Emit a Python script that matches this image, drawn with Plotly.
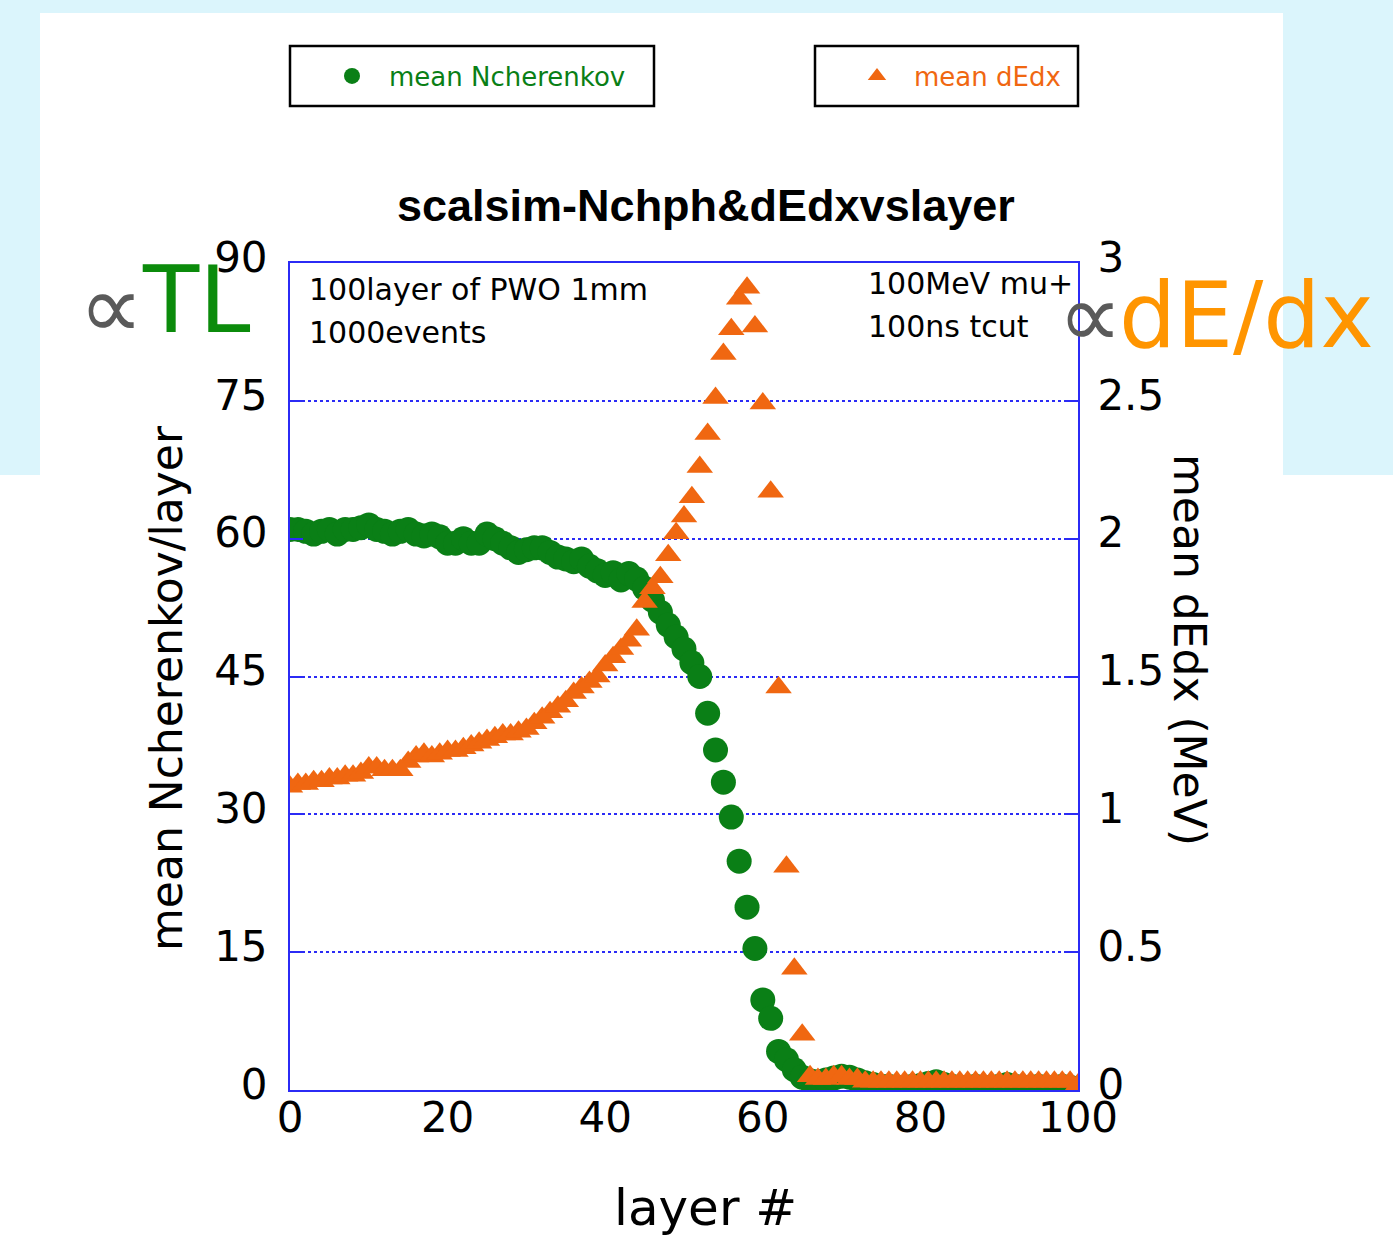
import plotly.graph_objects as go

# ---------------- data ----------------
layers = list(range(101))

ncherenkov = [
    61.0, 61.0, 60.8, 60.5, 60.8, 61.0, 60.5, 61.0, 61.0, 61.2,
    61.5, 61.0, 60.8, 60.5, 60.8, 61.0, 60.5, 60.3, 60.5, 60.2,
    59.5, 59.5, 60.0, 59.5, 59.5, 60.5, 60.0, 59.5, 59.0, 58.5,
    58.8, 59.0, 59.0, 58.5, 58.0, 57.8, 57.5, 57.8, 57.0, 56.5,
    56.0, 56.3, 55.5, 56.2, 55.6, 54.6, 53.3, 52.0, 50.6, 49.3,
    48.0, 46.5, 45.0, 41.0, 37.0, 33.5, 29.7, 24.9, 19.9, 15.4,
    9.8, 7.8, 4.2, 3.3, 2.2, 1.4, 1.0, 0.9, 1.1, 1.3,
    1.5, 1.4, 1.1, 0.8, 0.6, 0.4, 0.4, 0.3, 0.3, 0.4,
    0.5, 0.7, 0.9, 0.6, 0.4, 0.3, 0.3, 0.4, 0.3, 0.3,
    0.4, 0.6, 0.4, 0.3, 0.3, 0.4, 0.3, 0.3, 0.4, 0.3,
    0.2,
]

dedx = [
    1.10, 1.11, 1.11, 1.12, 1.12, 1.13, 1.13, 1.14, 1.14, 1.15,
    1.17, 1.17, 1.16, 1.16, 1.16, 1.19, 1.21, 1.22, 1.21, 1.22,
    1.23, 1.23, 1.24, 1.25, 1.26, 1.27, 1.28, 1.29, 1.29, 1.30,
    1.31, 1.33, 1.35, 1.37, 1.39, 1.41, 1.44, 1.46, 1.48, 1.50,
    1.54, 1.57, 1.60, 1.63, 1.67, 1.77, 1.82, 1.86, 1.94, 2.02,
    2.08, 2.15, 2.26, 2.38, 2.51, 2.67, 2.76, 2.87, 2.91, 2.77,
    2.49, 2.17, 1.46, 0.81, 0.44, 0.20, 0.05, 0.04, 0.04, 0.05,
    0.05, 0.04, 0.04, 0.03, 0.03, 0.03, 0.03, 0.03, 0.03, 0.03,
    0.03, 0.03, 0.03, 0.03, 0.03, 0.03, 0.03, 0.03, 0.03, 0.03,
    0.03, 0.03, 0.03, 0.03, 0.03, 0.03, 0.03, 0.03, 0.03, 0.03,
    0.02,
]

x_ticks = [0, 20, 40, 60, 80, 100]
y_ticks = [0, 15, 30, 45, 60, 75, 90]
y2_ticks = [0, 0.5, 1, 1.5, 2, 2.5, 3]
y2_ticktext = ["0", "0.5", "1", "1.5", "2", "2.5", "3"]

# ---------------- styling ----------------
GREEN = "#0a7f16"
ORANGE = "#f06711"
BLUE = "#2b2bf5"
FONT = "DejaVu Sans"

W, H = 1393, 1236
L, R, T, B = 290, 1078, 263, 1090


def px(x):
    return (x - L) / (R - L)


def py(y):
    return (B - y) / (B - T)


fig = go.Figure()
fig.add_trace(go.Scatter(
    x=layers, y=ncherenkov, mode="markers", name="mean Ncherenkov",
    marker=dict(symbol="circle", size=25, color=GREEN),
    legend="legend", yaxis="y",
))
fig.add_trace(go.Scatter(
    x=layers, y=dedx, mode="markers", name="mean dEdx",
    marker=dict(symbol="triangle-up", size=23, color=ORANGE),
    legend="legend2", yaxis="y2",
))

shapes = [
    dict(type="rect", xref="paper", yref="paper", layer="below",
         x0=px(0), x1=px(W), y0=py(0), y1=py(475),
         fillcolor="#dbf5fc", line=dict(width=0)),
    dict(type="rect", xref="paper", yref="paper", layer="below",
         x0=px(40), x1=px(1283), y0=py(13), y1=py(H + 5),
         fillcolor="white", line=dict(width=0)),
    dict(type="rect", xref="paper", yref="paper",
         x0=px(290), x1=px(654), y0=py(46), y1=py(106),
         fillcolor="rgba(0,0,0,0)", line=dict(color="black", width=2.5)),
    dict(type="rect", xref="paper", yref="paper",
         x0=px(815), x1=px(1078), y0=py(46), y1=py(106),
         fillcolor="rgba(0,0,0,0)", line=dict(color="black", width=2.5)),
]

annotations = [
    dict(text="scalsim-Nchph&amp;dEdxvslayer", x=px(706), y=py(205),
         font=dict(family="Liberation Sans", size=45, color="black", weight="bold")),
    dict(text="mean Ncherenkov/layer", x=px(166), y=py(688), textangle=-90,
         font=dict(family=FONT, size=44, color="black")),
    dict(text="mean dEdx (MeV)", x=px(1190), y=py(650), textangle=90,
         font=dict(family=FONT, size=44, color="black")),
    dict(text="layer #", x=px(705), y=py(1208),
         font=dict(family=FONT, size=50, color="black")),
    dict(text="100layer of PWO 1mm", x=px(307), y=py(289), xanchor="left",
         font=dict(family=FONT, size=30, color="black")),
    dict(text="1000events", x=px(307), y=py(332), xanchor="left",
         font=dict(family=FONT, size=30, color="black")),
    dict(text="100MeV mu+", x=px(866), y=py(283), xanchor="left",
         font=dict(family=FONT, size=30, color="black")),
    dict(text="100ns tcut", x=px(866), y=py(326), xanchor="left",
         font=dict(family=FONT, size=30, color="black")),
    dict(text="∝", x=px(111), y=py(306),
         font=dict(family=FONT, size=90, color="#5a5a5a")),
    dict(text="TL", x=px(140), y=py(300), xanchor="left",
         font=dict(family=FONT, size=92, color="#0b8b0b")),
    dict(text="∝", x=px(1090), y=py(316),
         font=dict(family=FONT, size=90, color="#5a5a5a")),
    dict(text="dE/dx", x=px(1117), y=py(316), xanchor="left",
         font=dict(family=FONT, size=90, color="#ff9500")),
]
for a in annotations:
    a.setdefault("xref", "paper")
    a.setdefault("yref", "paper")
    a.setdefault("showarrow", False)
    a.setdefault("xanchor", "center")
    a.setdefault("yanchor", "middle")

tickfont = dict(family=FONT, size=42, color="black")

fig.update_layout(
    width=W, height=H,
    margin=dict(l=L, r=W - R, t=T, b=H - B, pad=0),
    paper_bgcolor="white", plot_bgcolor="white",
    shapes=shapes, annotations=annotations,
    xaxis=dict(range=[0, 100], tickvals=x_ticks, showgrid=False, zeroline=False,
               showline=True, linecolor=BLUE, linewidth=2, mirror=True,
               ticks="", tickfont=tickfont, ticklabelstandoff=-10),
    yaxis=dict(range=[0, 90], tickvals=y_ticks, showgrid=True, gridcolor=BLUE,
               griddash="dot", gridwidth=1.5, zeroline=False,
               showline=True, linecolor=BLUE, linewidth=2,
               ticks="inside", ticklen=13, tickwidth=2, tickcolor=BLUE,
               tickfont=tickfont, ticklabelstandoff=12, ticklabelshift=-6),
    yaxis2=dict(range=[0, 3], tickvals=y2_ticks, ticktext=y2_ticktext,
                overlaying="y", side="right", showgrid=False, zeroline=False,
                showline=True, linecolor=BLUE, linewidth=2,
                ticks="inside", ticklen=13, tickwidth=2, tickcolor=BLUE,
                tickfont=tickfont, ticklabelstandoff=9, ticklabelshift=-6),
    legend=dict(x=px(315), y=py(76), xanchor="left", yanchor="middle",
                bgcolor="rgba(0,0,0,0)", borderwidth=0, itemwidth=64,
                font=dict(family=FONT, size=26, color=GREEN)),
    legend2=dict(x=px(840), y=py(76), xanchor="left", yanchor="middle",
                 bgcolor="rgba(0,0,0,0)", borderwidth=0, itemwidth=64,
                 font=dict(family=FONT, size=26, color=ORANGE)),
    showlegend=True,
)

fig.write_html("out.html")
